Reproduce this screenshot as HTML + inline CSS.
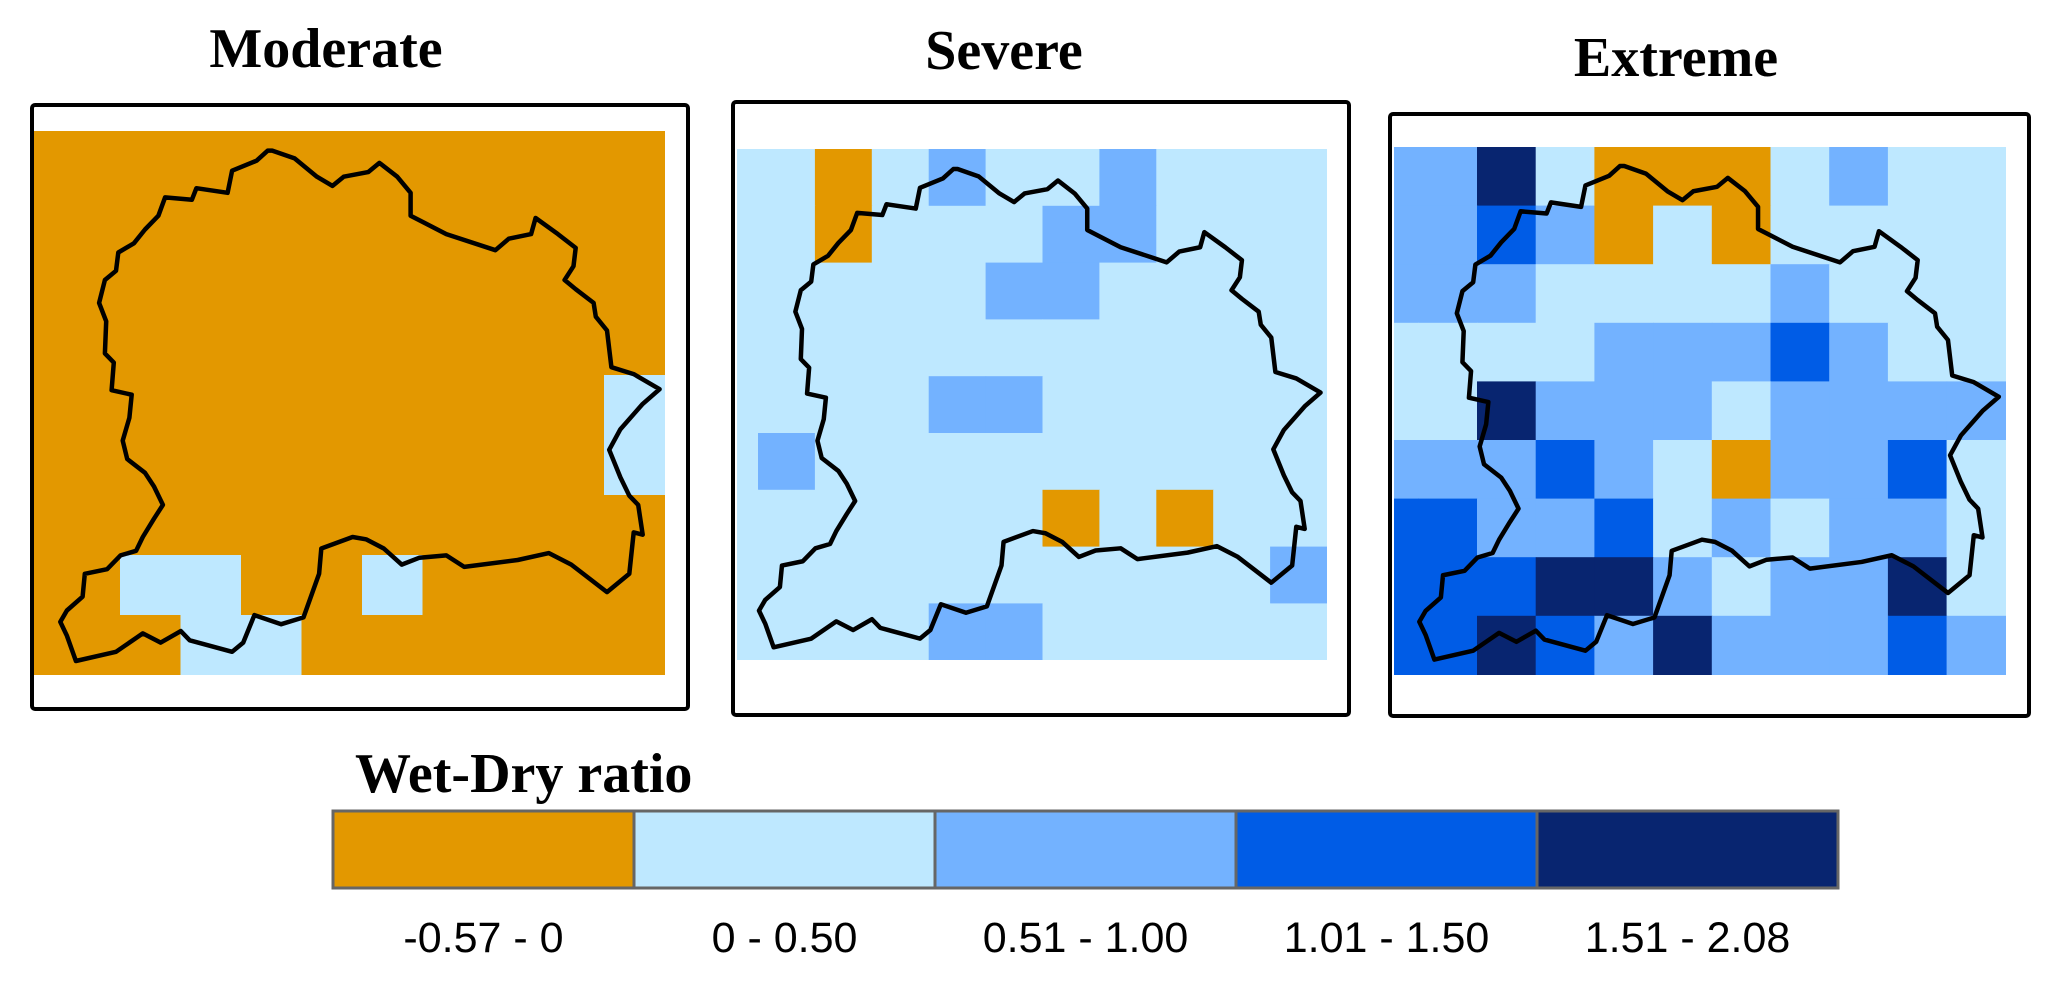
<!DOCTYPE html>
<html><head><meta charset="utf-8"><style>
html,body{margin:0;padding:0;background:#fff;}
svg{display:block;}
.ttl{font-family:"Liberation Serif",serif;font-weight:bold;font-size:56px;fill:#000;}
.lbl{font-family:"Liberation Sans",sans-serif;font-size:43px;fill:#000;}
</style></head><body>
<svg id="chart" width="2067" height="983" viewBox="0 0 2067 983" xmlns="http://www.w3.org/2000/svg">
<defs>
<clipPath id="clip0"><rect x="34" y="131" width="631" height="544"/></clipPath>
<clipPath id="clip1"><rect x="737" y="149" width="590" height="511"/></clipPath>
<clipPath id="clip2"><rect x="1394" y="147" width="612" height="528"/></clipPath>
</defs>
<text class="ttl" x="326" y="67" text-anchor="middle">Moderate</text>
<text class="ttl" x="1004" y="69" text-anchor="middle">Severe</text>
<text class="ttl" x="1676" y="76" text-anchor="middle">Extreme</text>
<g id="cells0" clip-path="url(#clip0)"></g>
<g id="cells1" clip-path="url(#clip1)"></g>
<g id="cells2" clip-path="url(#clip2)"></g>
<g id="outlines"></g>
<rect x="32" y="105" width="656" height="604" rx="3" fill="none" stroke="#000" stroke-width="4"/>
<rect x="733" y="102" width="616" height="613" rx="3" fill="none" stroke="#000" stroke-width="4"/>
<rect x="1390" y="114" width="639" height="602" rx="3" fill="none" stroke="#000" stroke-width="4"/>
<text class="ttl" x="355" y="792">Wet-Dry ratio</text>
<g id="legend"></g>
</svg>
<script>
var classColors = ["#E39800","#BEE8FF","#73B2FF","#005CE6","#082570"];
var classLabels = ["-0.57 - 0","0 - 0.50","0.51 - 1.00","1.01 - 1.50","1.51 - 2.08"];
var moderateGrid = [
[0,0,0,0,0,0,0,0,0,0,0],
[0,0,0,0,0,0,0,0,0,0,0],
[0,0,0,0,0,0,0,0,0,0,0],
[0,0,0,0,0,0,0,0,0,0,0],
[0,0,0,0,0,0,0,0,0,0,1],
[0,0,0,0,0,0,0,0,0,0,1],
[0,0,0,0,0,0,0,0,0,0,0],
[0,0,1,1,0,0,1,0,0,0,0],
[0,0,0,1,1,0,0,0,0,0,0]];
var severeGrid = [
[1,1,0,1,2,1,1,2,1,1,1],
[1,1,0,1,1,1,2,2,1,1,1],
[1,1,1,1,1,2,2,1,1,1,1],
[1,1,1,1,1,1,1,1,1,1,1],
[1,1,1,1,2,2,1,1,1,1,1],
[1,2,1,1,1,1,1,1,1,1,1],
[1,1,1,1,1,1,0,1,0,1,1],
[1,1,1,1,1,1,1,1,1,1,2],
[1,1,1,1,2,2,1,1,1,1,1]];
var extremeGrid = [
[2,2,4,1,0,0,0,1,2,1,1],
[2,2,3,2,0,1,0,1,1,1,1],
[2,2,2,1,1,1,1,2,1,1,1],
[1,1,1,1,2,2,2,3,2,1,1],
[1,1,4,2,2,2,1,2,2,2,2],
[2,2,2,3,2,1,0,2,2,3,1],
[3,3,2,2,3,1,2,1,2,2,1],
[3,3,3,4,4,2,1,2,2,4,1],
[3,3,4,3,2,4,2,2,2,3,2]];
var outlinePts = [[600,328],[575,350],[520,372],[510,420],[440,410],[430,435],[370,430],[355,470],[325,500],[300,530],[265,550],[260,590],[235,610],[222,660],[238,700],[235,770],[255,790],[250,850],[295,860],[290,910],[275,960],[285,1000],[325,1030],[345,1060],[365,1100],[345,1130],[320,1170],[305,1200],[270,1210],[240,1240],[190,1250],[185,1300],[150,1330],[135,1355],[150,1385],[170,1440],[260,1420],[320,1380],[360,1400],[405,1375],[425,1395],[520,1420],[545,1400],[570,1340],[630,1360],[680,1345],[715,1250],[720,1195],[790,1170],[820,1175],[860,1195],[900,1230],[940,1215],[1000,1210],[1040,1235],[1160,1220],[1230,1205],[1280,1230],[1360,1290],[1410,1250],[1420,1160],[1440,1165],[1430,1100],[1410,1080],[1390,1040],[1365,980],[1390,935],[1440,880],[1478,848],[1420,815],[1370,800],[1360,720],[1335,690],[1330,660],[1290,630],[1265,610],[1285,580],[1290,540],[1250,510],[1200,475],[1190,510],[1140,520],[1110,545],[1000,510],[950,485],[920,470],[920,420],[890,385],[850,355],[825,375],[770,385],[745,405],[710,385],[660,345],[610,328]];
var NS="http://www.w3.org/2000/svg";
var panels=[
 {g:"cells0",data:moderateGrid,x0:-1,cw:60.5,y0:135,ch:60,name:"moderate"},
 {g:"cells1",data:severeGrid,x0:701.1,cw:56.9,y0:149,ch:56.8,name:"severe"},
 {g:"cells2",data:extremeGrid,x0:1359.6,cw:58.7,y0:147,ch:58.6,name:"extreme"}];
panels.forEach(function(p){
 var g=document.getElementById(p.g);
 var nr=p.data.length;
 p.data.forEach(function(row,r){
  var nc=row.length;
  row.forEach(function(v,c){
   var x=p.x0+c*p.cw,y=p.y0+r*p.ch,w=p.cw+0.6,h=p.ch+0.6;
   if(c===0){x-=p.cw;w+=p.cw;} if(c===nc-1){w+=p.cw;}
   if(r===0){y-=p.ch;h+=p.ch;} if(r===nr-1){h+=p.ch;}
   var el=document.createElementNS(NS,"rect");
   el.setAttribute("x",x);el.setAttribute("y",y);el.setAttribute("width",w);el.setAttribute("height",h);
   el.setAttribute("fill",classColors[v]);
   
   
   g.appendChild(el);
  });
 });
});
var pts=outlinePts.map(function(p){return (p[0]*0.4463).toFixed(1)+","+(p[1]*0.459).toFixed(1);}).join(" ");
var trans=["","translate(702.5,27.9) scale(0.937)","translate(1361,20.4) scale(0.967)"];
var og=document.getElementById("outlines");
trans.forEach(function(t,i){
 var pl=document.createElementNS(NS,"polygon");
 pl.setAttribute("points",pts);
 if(t)pl.setAttribute("transform",t);
 pl.setAttribute("fill","none");pl.setAttribute("stroke","#000");pl.setAttribute("stroke-width","4.5");
 pl.setAttribute("stroke-linejoin","round");pl.setAttribute("vector-effect","non-scaling-stroke");
 
 
 og.appendChild(pl);
});
var lg=document.getElementById("legend");
var lx=333,lw=301,ly=811,lh=77;
classColors.forEach(function(col,i){
 var r=document.createElementNS(NS,"rect");
 r.setAttribute("x",lx+i*lw);r.setAttribute("y",ly);r.setAttribute("width",lw);r.setAttribute("height",lh);
 r.setAttribute("fill",col);r.setAttribute("stroke","#666");r.setAttribute("stroke-width","3");
 
 
 lg.appendChild(r);
 var t=document.createElementNS(NS,"text");
 t.setAttribute("x",lx+i*lw+lw/2);t.setAttribute("y",952);t.setAttribute("text-anchor","middle");
 t.setAttribute("class","lbl");t.textContent=classLabels[i];
 
 
 lg.appendChild(t);
});
</script>
</body></html>
